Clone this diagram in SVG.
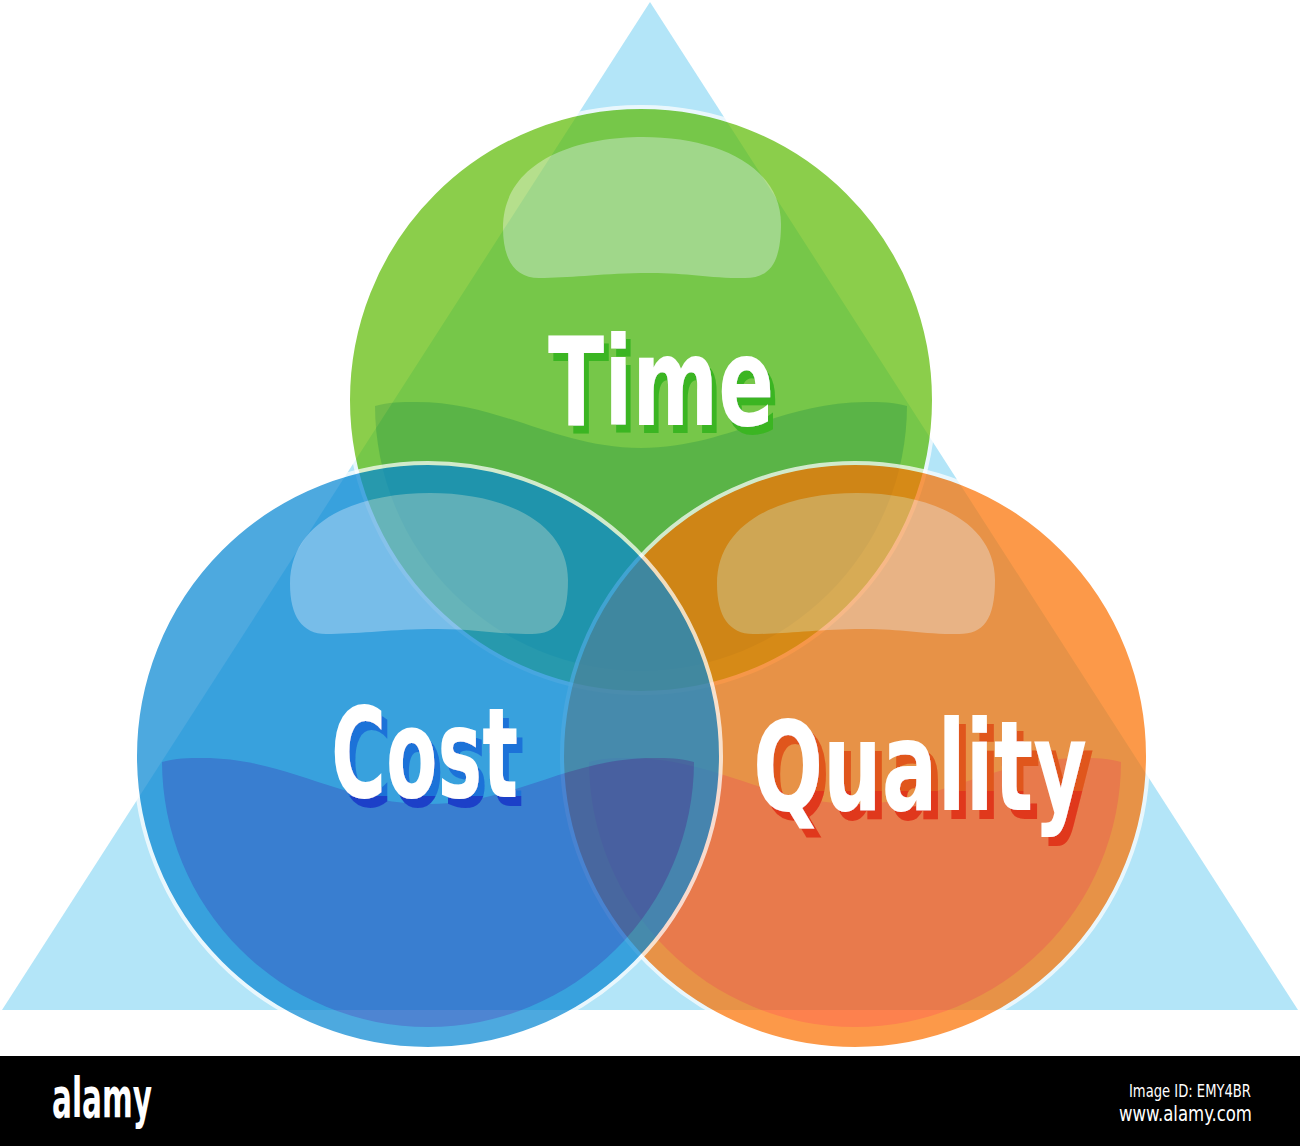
<svg xmlns="http://www.w3.org/2000/svg" xmlns:xlink="http://www.w3.org/1999/xlink" width="1300" height="1146" viewBox="0 0 1300 1146">
<style>
.lbl{font-family:'Liberation Sans Narrow','DejaVu Sans Condensed','Roboto Condensed','Liberation Sans',sans-serif;font-weight:bold;font-stretch:condensed;fill:#ffffff}
.ring{fill:none;stroke:#ffffff;stroke-width:4}
.foot{font-family:'Liberation Sans Narrow','DejaVu Sans Condensed','Liberation Sans',sans-serif;font-stretch:condensed;fill:#ffffff}
</style>
<defs>
<clipPath id="clipInset"><circle cx="0" cy="5" r="266"/></clipPath>
<path id="wave" d="M-300,6 L-266,6 C-252,2 -240,2 -225,2 C-140,2 -85,48 0,48 C85,48 140,2 225,2 C240,2 252,2 266,6 L300,6 L300,300 L-300,300 Z"/>
<path id="hl" d="M-138,-172 C-138,-236 -70,-263 2,-263 C76,-263 140,-234 140,-176 C140,-136 128,-122 104,-122 C62,-122 44,-128 0,-127 C-44,-126 -72,-122 -102,-122 C-126,-122 -138,-140 -138,-172 Z"/>
<filter id="shTime" filterUnits="userSpaceOnUse" x="500" y="300" width="320" height="160">
  <feFlood flood-color="#3ab523"/>
  <feComposite in2="SourceAlpha" operator="in"/>
  <feOffset dx="5" dy="8" result="s"/>
  <feMerge><feMergeNode in="s"/><feMergeNode in="SourceGraphic"/></feMerge>
</filter>
<filter id="shCost" filterUnits="userSpaceOnUse" primitiveUnits="userSpaceOnUse" x="280" y="660" width="300" height="180">
  <feFlood flood-color="#1f72d8" x="280" y="660" width="300" height="180" result="a"/>
  <feFlood flood-color="#1a40c8" x="280" y="787" width="300" height="60" result="b"/>
  <feMerge result="f"><feMergeNode in="a"/><feMergeNode in="b"/></feMerge>
  <feComposite in="f" in2="SourceAlpha" operator="in"/>
  <feOffset dx="6" dy="9" result="s"/>
  <feMerge><feMergeNode in="s"/><feMergeNode in="SourceGraphic"/></feMerge>
</filter>
<filter id="shQual" filterUnits="userSpaceOnUse" primitiveUnits="userSpaceOnUse" x="700" y="670" width="440" height="200">
  <feFlood flood-color="#e0561c" x="700" y="670" width="440" height="200" result="a"/>
  <feFlood flood-color="#e0381e" x="700" y="782" width="440" height="90" result="b"/>
  <feMerge result="f"><feMergeNode in="a"/><feMergeNode in="b"/></feMerge>
  <feComposite in="f" in2="SourceAlpha" operator="in"/>
  <feOffset dx="7" dy="9" result="s"/>
  <feMerge><feMergeNode in="s"/><feMergeNode in="SourceGraphic"/></feMerge>
</filter>
</defs>
<rect x="0" y="0" width="1300" height="1146" fill="#ffffff"/>
<g id="triangle"><polygon points="650,2 1298,1010 2,1010" fill="#b3e5f8"/></g>
<g id="connectors"></g>
<g id="time">
  <g transform="translate(641,400)" opacity="0.72">
    <circle r="293" fill="#5fbc06"/>
    <g clip-path="url(#clipInset)"><use href="#wave" xlink:href="#wave" fill="#39a204"/></g>
    <use href="#hl" xlink:href="#hl" fill="#99d360"/>
    <circle r="293" class="ring"/>
  </g>
  <text class="lbl" x="548" y="425" font-size="123" textLength="226" lengthAdjust="spacingAndGlyphs" filter="url(#shTime)">Time</text>
</g>
<g id="quality">
  <g transform="translate(855,756)" opacity="0.72">
    <circle r="293" fill="#fc7304"/>
    <g clip-path="url(#clipInset)"><use href="#wave" xlink:href="#wave" fill="#fd510b"/></g>
    <use href="#hl" xlink:href="#hl" fill="#fda15a"/>
    <circle r="293" class="ring"/>
  </g>
</g>
<g id="cost">
  <g transform="translate(428,756)" opacity="0.72">
    <circle r="293" fill="#0988d4"/>
    <g clip-path="url(#clipInset)"><use href="#wave" xlink:href="#wave" fill="#0b57c1"/></g>
    <use href="#hl" xlink:href="#hl" fill="#61aee4"/>
    <circle r="293" class="ring"/>
  </g>
  <text class="lbl" x="331" y="797" font-size="124" textLength="187" lengthAdjust="spacingAndGlyphs" filter="url(#shCost)">Cost</text>
</g>
<g id="quality-label">
  <text class="lbl" x="753" y="810" font-size="125" textLength="334" lengthAdjust="spacingAndGlyphs" filter="url(#shQual)">Quality</text>
</g>
<g id="footer">
  <rect x="0" y="1056" width="1300" height="90" fill="#000000"/>
  <text class="foot" x="52" y="1117" font-size="56" font-weight="bold" textLength="100" lengthAdjust="spacingAndGlyphs">alamy</text>
  <text class="foot" x="1129" y="1097" font-size="18" textLength="122" lengthAdjust="spacingAndGlyphs">Image ID: EMY4BR</text>
  <text class="foot" x="1119" y="1121" font-size="21" textLength="133" lengthAdjust="spacingAndGlyphs">www.alamy.com</text>
</g>
</svg>
